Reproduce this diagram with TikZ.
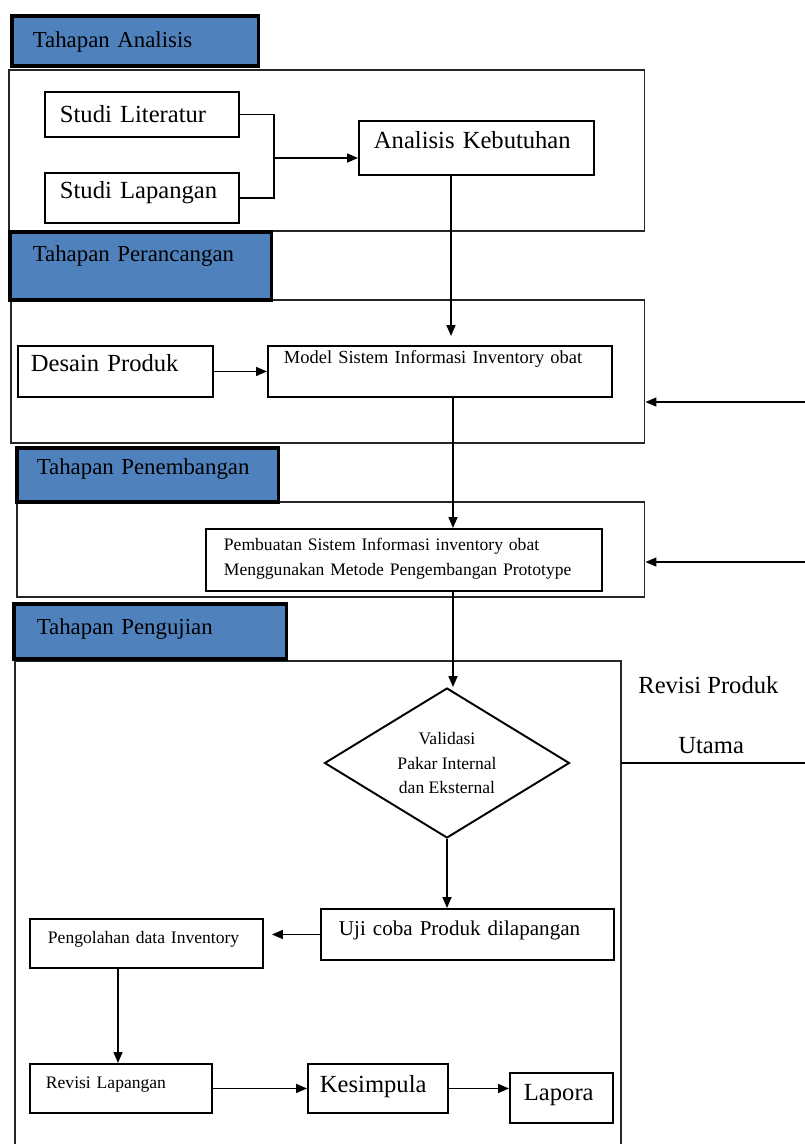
\documentclass[tikz,border=0pt]{standalone}
\usepackage{fontspec}
\setmainfont{Liberation Serif}
\usepackage{xcolor}
\definecolor{headblue}{RGB}{79,129,189}
\usetikzlibrary{arrows.meta,shapes.geometric,positioning}

\tikzset{
  header/.style={draw=black, line width=2pt, fill=headblue, anchor=north west,
    inner ysep=0pt, align=left, font=\fontsize{13}{15}\selectfont},
  box/.style={draw=black, line width=1.1pt, fill=white, anchor=north west,
    inner ysep=0pt, align=left},
  frame/.style={draw=black!85, line width=0.9pt, anchor=north west, inner sep=0pt},
  flow/.style={-{Triangle[length=0.22cm,width=0.18cm]}, line width=0.9pt},
  link/.style={line width=0.9pt},
  big/.style={font=\fontsize{14}{16}\selectfont},
  small/.style={font=\fontsize{10}{14}\selectfont},
}

\begin{document}
\begin{tikzpicture}[x=0.02cm,y=-0.02cm]
        % Page
        \useasboundingbox (0,0) rectangle (805,1144);
        % Stage frames
        \node[frame, minimum width=12.72cm, minimum height=3.22cm] (fA) at (8,69) {};
        \node[frame, minimum width=12.68cm, minimum height=2.86cm] (fP) at (10,299) {};
        \node[frame, minimum width=12.56cm, minimum height=1.90cm] (fN) at (16,501) {};
        \draw[frame] (15,1144) -- (15,661) -- (621,661) -- (621,1144);
        % Stage headers
        \node[header, inner xsep=0.42cm, text width=4.10cm, text height=0.64cm, text depth=0.36cm] (hA) at (10,14) {Tahapan Analisis};
        \node[header, inner xsep=0.46cm, text width=4.32cm, text height=0.60cm, text depth=0.76cm] (hP) at (8,230) {Tahapan Perancangan};
        \node[header, inner xsep=0.40cm, text width=4.44cm, text height=0.54cm, text depth=0.54cm] (hN) at (15,446) {Tahapan Penembangan};
        \node[header, inner xsep=0.46cm, text width=4.54cm, text height=0.62cm, text depth=0.48cm] (hU) at (12,602) {Tahapan Pengujian};
        % Analisis
        \node[box, big, inner xsep=0.30cm, text width=3.28cm, text height=0.62cm, text depth=0.28cm] (sl) at (44,91) {Studi Literatur};
        \node[box, big, inner xsep=0.30cm, text width=3.28cm, text height=0.52cm, text depth=0.48cm] (sp) at (44,172) {Studi Lapangan};
        \node[box, big, inner xsep=0.30cm, text width=4.10cm, text height=0.56cm, text depth=0.52cm] (ak) at (358,120) {Analisis Kebutuhan};
        % Perancangan
        \node[box, big, inner xsep=0.26cm, text width=3.38cm, text height=0.52cm, text depth=0.50cm] (dp) at (17,345) {Desain Produk};
        \node[box, font=\fontsize{10.5}{14}\selectfont, inner xsep=0.32cm, text width=6.24cm, text height=0.36cm, text depth=0.66cm] (ms) at (267,345) {Model Sistem Informasi Inventory obat};
        % Penembangan
        \node[box, small, inner xsep=0.36cm, text width=7.20cm, text height=0.44cm, text depth=0.80cm] (pb) at (205,528) {Pembuatan Sistem Informasi inventory obat\\Menggunakan Metode Pengembangan Prototype};
        % Pengujian
        \node[draw, diamond, aspect=1.6, minimum width=4.9cm, minimum height=3cm, inner sep=0pt, line width=1.1pt, align=center, small] (vd) at (447,763) {Validasi\\Pakar Internal\\dan Eksternal};
        \node[box, font=\fontsize{12}{14}\selectfont, inner xsep=0.36cm, text width=5.14cm, text height=0.54cm, text depth=0.48cm] (uc) at (320,908) {Uji coba Produk dilapangan};
        \node[box, small, inner xsep=0.36cm, text width=3.94cm, text height=0.50cm, text depth=0.48cm] (pd) at (29,918) {Pengolahan data Inventory};
        \node[box, small, inner xsep=0.32cm, text width=3.00cm, text height=0.50cm, text depth=0.48cm] (rl) at (29,1063) {Revisi Lapangan};
        \node[box, big, inner xsep=0.24cm, text width=2.32cm, text height=0.58cm, text depth=0.40cm] (ks) at (307,1063) {Kesimpula};
        \node[box, big, inner xsep=0.28cm, text width=1.50cm, text height=0.56cm, text depth=0.44cm] (lp) at (509,1072) {Lapora};
        % Revision label
        \node[big, anchor=base west, inner sep=0pt] (rv) at (638,693) {Revisi Produk};
        \node[big, anchor=base west, inner sep=0pt] (ut) at (678,753) {Utama};
        % Helper points
        \coordinate (jn) at (274,158);
        \coordinate (c1) at (451,0);
        \coordinate (c2) at (453,0);
        \coordinate (c3) at (118,0);
        \coordinate (rP) at (805,402);
        \coordinate (rN) at (805,562);
        \coordinate (rU) at (805,763);
        \coordinate (uR) at (621,763);
        % Connectors
        \draw[link] (sl.east) -| (jn) |- (sp.east);
        \draw[flow] (jn) -- (jn -| ak.west);
        \draw[flow, shorten >=0.18cm] (c1 |- ak.south) -- (c1 |- ms.north);
        \draw[flow] (dp.east) -- (ms.west);
        \draw[flow] (rP) -- (rP -| fP.east);
        \draw[flow] (c2 |- ms.south) -- (c2 |- pb.north);
        \draw[flow] (rN) -- (rN -| fN.east);
        \draw[flow] (c2 |- pb.south) -- (c2 |- vd.north);
        \draw[link] (uR) -- (rU);
        \draw[flow] (vd.south) -- (vd.south |- uc.north);
        \draw[flow, shorten >=0.16cm] (uc.west) -- (uc.west -| pd.east);
        \draw[flow] (c3 |- pd.south) -- (c3 |- rl.north);
        \draw[flow] (rl.east) -- (ks.west);
        \draw[flow] (ks.east) -- (ks.east -| lp.west);
\end{tikzpicture}
\end{document}
